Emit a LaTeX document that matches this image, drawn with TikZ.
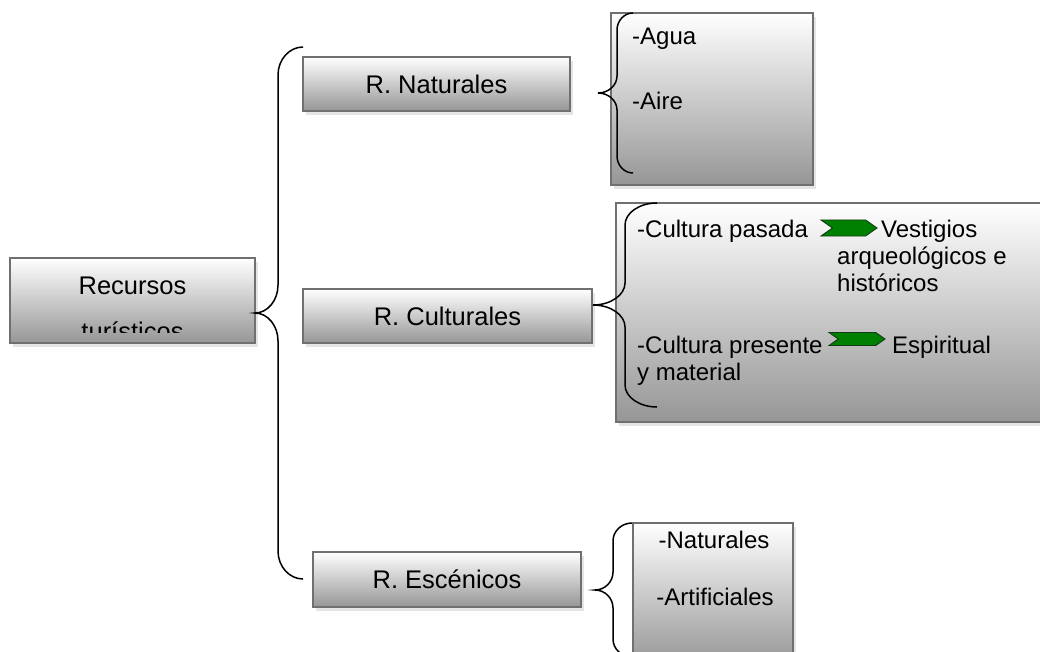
\documentclass[tikz,border=0pt]{standalone}
\usepackage{fontspec}
\setmainfont{Liberation Sans}
\usetikzlibrary{shadows, shapes.symbols, positioning}
\definecolor{boxline}{RGB}{112,112,112}
\definecolor{boxbottom}{RGB}{150,150,150}
\definecolor{arrowgreen}{RGB}{0,128,0}
\definecolor{arrowline}{RGB}{20,60,20}

% Word-style curly brace: tip x, tip y, half height, spine offset, end offset, curl
\newcommand{\curlybrace}[6]{%
  \draw[bracestyle] (#1+#5,#2-#3)
    .. controls (#1+#5-0.55*#5+0.55*#4,#2-#3) and (#1+#4,#2-#3+0.45*#6) .. (#1+#4,#2-#3+#6)
    -- (#1+#4,#2-#6)
    .. controls (#1+#4,#2-0.45*#6) and (#1+0.55*#4,#2) .. (#1,#2)
    .. controls (#1+0.55*#4,#2) and (#1+#4,#2+0.45*#6) .. (#1+#4,#2+#6)
    -- (#1+#4,#2+#3-#6)
    .. controls (#1+#4,#2+#3-0.45*#6) and (#1+#5-0.55*#5+0.55*#4,#2+#3) .. (#1+#5,#2+#3);}

\begin{document}
\begin{tikzpicture}[
    x=1pt, y=-1pt,
    rbox/.style={
        rectangle,
        draw=boxline,
        line width=1.6pt,
        top color=white,
        bottom color=boxbottom,
        drop shadow={shadow xshift=3pt, shadow yshift=-4pt, fill=black!20},
        inner sep=0pt,
        font=\fontsize{25.5}{30}\selectfont
    },
    listtext/.style={anchor=base west, inner sep=0pt, font=\fontsize{24}{27.5}\selectfont},
    bracestyle/.style={draw=black, line width=1.5pt},
    greenarrow/.style={
        signal, signal from=west, signal to=east, signal pointer angle=70,
        fill=arrowgreen, draw=arrowline, line width=0.9pt,
        minimum width=56pt, inner sep=0pt
    }
]
    \useasboundingbox (0,0) rectangle (1040,652);
    \clip (0,0) rectangle (1040,652);

    % Root
    \node[rbox, minimum width=245pt, minimum height=85pt] (rec) at (132.5,300.5) {};
    \node[font=\fontsize{25.5}{30}\selectfont, anchor=base, inner sep=0pt] (recA) at (132.5,294) {Recursos};
    \begin{scope}
        \clip (10,258) rectangle (255,332);
        \node[font=\fontsize{25.5}{30}\selectfont, anchor=base, inner sep=0pt] (recB) at (132.5,340) {turísticos};
    \end{scope}
    \curlybrace{255}{313}{266}{23}{48}{28}

    % Branches
    \node[rbox, minimum width=267pt, minimum height=54pt] (nat) at (436.5,84) {R. Naturales};
    \node[rbox, minimum width=289pt, minimum height=54pt] (cul) at (447.5,316) {\raisebox{-5pt}{R. Culturales}};
    \node[rbox, minimum width=268pt, minimum height=55pt] (esc) at (447,579.5) {R. Escénicos};

    % Natural resources
    \node[rbox, minimum width=202pt, minimum height=172pt] (natlist) at (712,99) {};
    \curlybrace{598}{93}{80}{19}{35}{17}
    \node[listtext] (agua) at (632,45) {-Agua};
    \node[listtext] (aire) at (632,110) {-Aire};

    % Cultural resources
    \node[rbox, minimum width=440pt, minimum height=219pt] (cullist) at (836,312.5) {};
    \curlybrace{593}{305}{102}{32}{64}{22}
    \node[listtext] (pasada) at (637,237) {-Cultura pasada};
    \node[greenarrow, minimum height=16pt] (ar1) at (849,228) {};
    \node[listtext] (vest) at (881,237) {Vestigios};
    \node[listtext] (arq) at (837,264) {arqueológicos e};
    \node[listtext] (hist) at (837,291) {históricos};
    \node[listtext] (presente) at (637,353) {-Cultura presente};
    \node[greenarrow, minimum height=13pt] (ar2) at (857,339) {};
    \node[listtext] (espir) at (892,353) {Espiritual};
    \node[listtext] (mat) at (637,380) {y material};

    % Scenic resources
    \node[rbox, minimum width=160pt, minimum height=142pt] (esclist) at (713,594) {};
    \curlybrace{595}{590}{67}{18}{37}{18}
    \node[listtext, anchor=base] (escnat) at (714,548) {-Naturales};
    \node[listtext, anchor=base] (escart) at (715,605) {-Artificiales};
\end{tikzpicture}
\end{document}
